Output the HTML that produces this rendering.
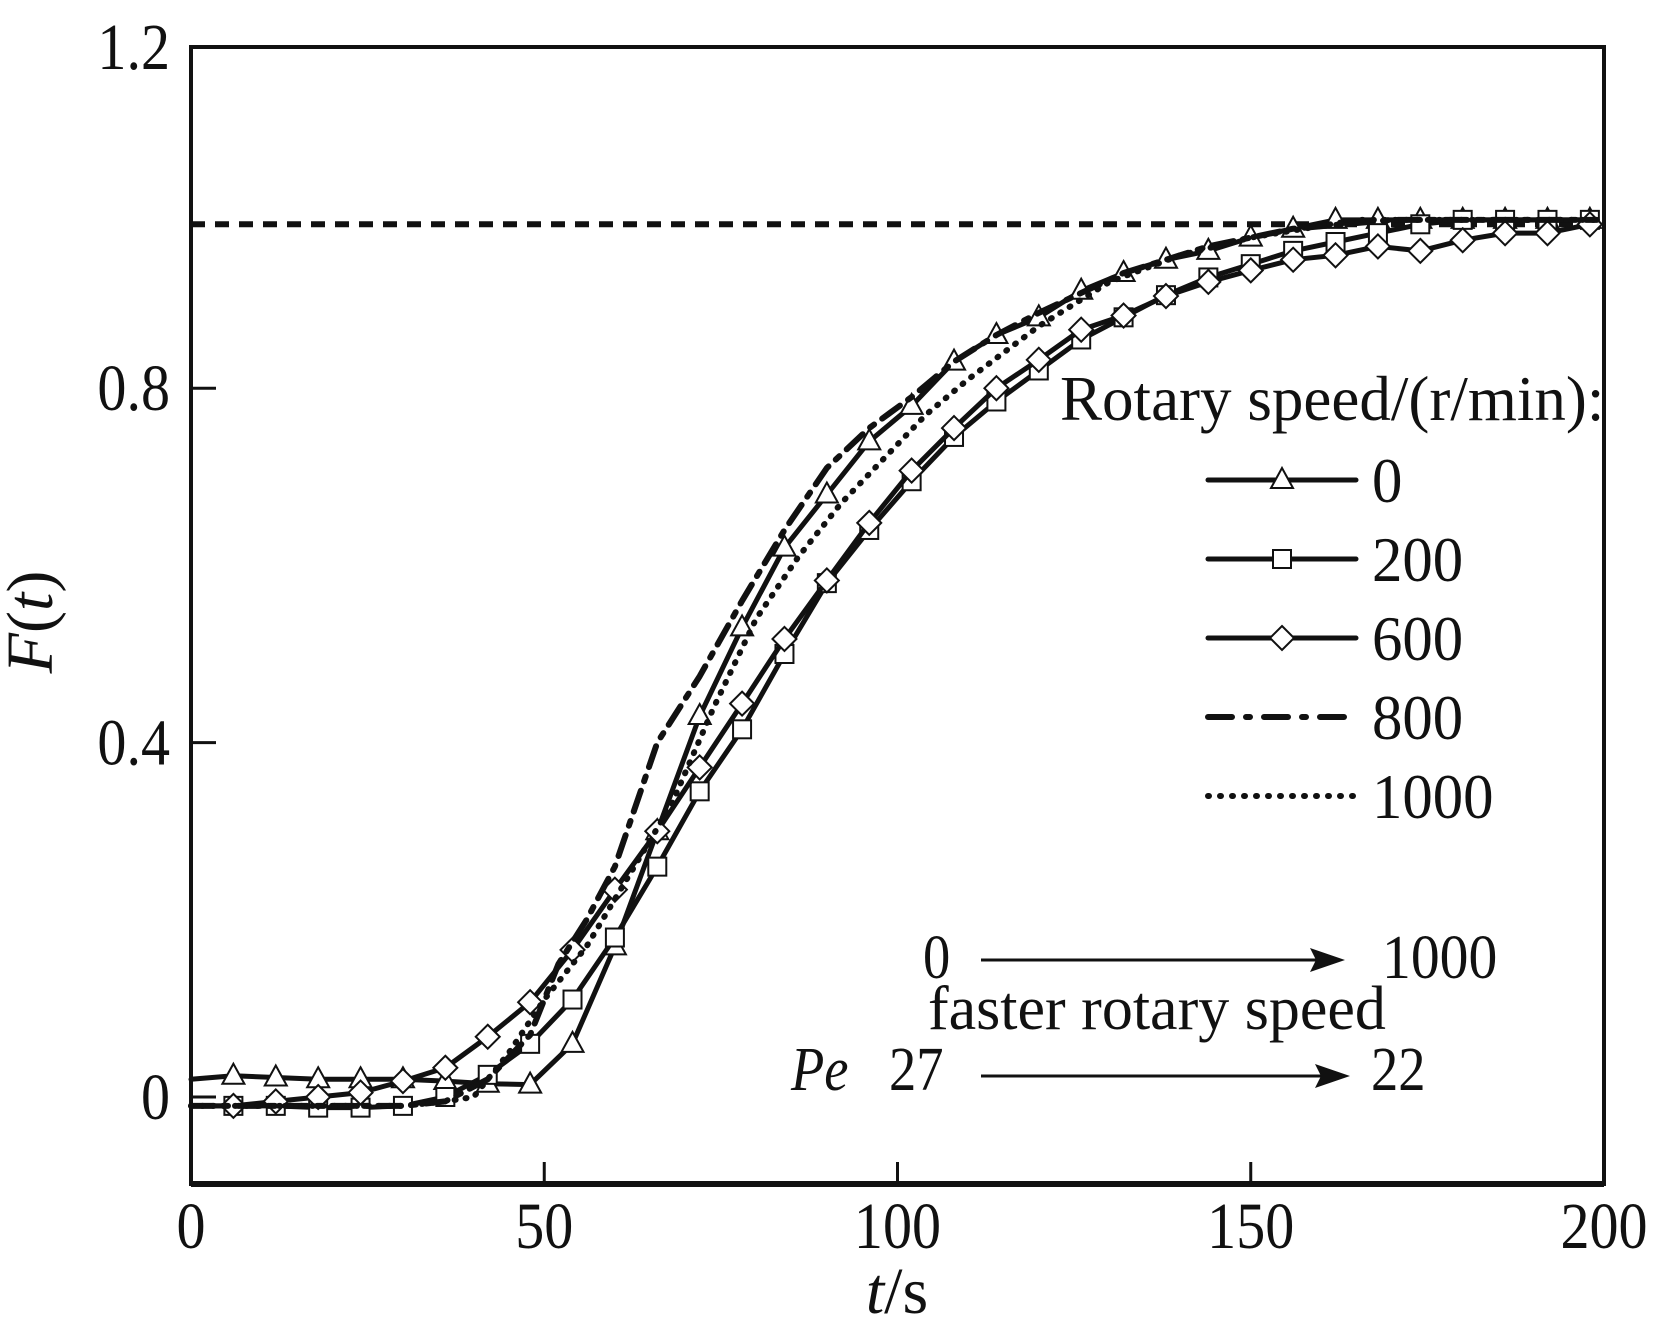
<!DOCTYPE html>
<html><head><meta charset="utf-8"><style>
html,body{margin:0;padding:0;background:#fff;}
svg{display:block;}
text{font-family:"Liberation Serif",serif;fill:#111;}
</style></head><body>
<svg id="chart" width="1654" height="1340" viewBox="0 0 1654 1340" xmlns="http://www.w3.org/2000/svg">
<g id="axes"></g>
<g id="series"></g>
<g id="legend"></g>
<g id="annot">
  <text x="923" y="978" font-size="62" transform="translate(923 0) scale(0.88 1) translate(-923 0)">0</text>
  <line x1="981" y1="960" x2="1335" y2="960" stroke="#111" stroke-width="3"/>
  <path d="M1345 960 L1310 948 L1316 960 L1310 972 Z" fill="#111"/>
  <text x="1382" y="978" font-size="62" transform="translate(1382 0) scale(0.93 1) translate(-1382 0)">1000</text>
  <text x="928" y="1029" font-size="62" transform="translate(928 0) scale(1.0 1) translate(-928 0)">faster rotary speed</text>
  <text x="791" y="1090" font-size="62" font-style="italic" transform="translate(791 0) scale(0.88 1) translate(-791 0)">Pe</text>
  <text x="889" y="1090" font-size="62" transform="translate(889 0) scale(0.88 1) translate(-889 0)">27</text>
  <line x1="981" y1="1076" x2="1340" y2="1076" stroke="#111" stroke-width="3"/>
  <path d="M1350 1076 L1315 1064 L1321 1076 L1315 1088 Z" fill="#111"/>
  <text x="1371" y="1090" font-size="62" transform="translate(1371 0) scale(0.88 1) translate(-1371 0)">22</text>
</g>
</svg>
<script>
const xTicks = [0, 50, 100, 150, 200];
const yTicks = [0, 0.4, 0.8, 1.2];
const seriesNames = ["0", "200", "600", "800", "1000"];
const t0 = [0,6,12,18,24,30,36,42,48,54,60,66,72,78,84,90,96,102,108,114,120,126,132,138,144,150,156,162,168,174,180,186,192,198];
const v0 = [0.02,0.024,0.022,0.02,0.02,0.02,0.018,0.015,0.014,0.06,0.17,0.30,0.43,0.53,0.62,0.68,0.74,0.78,0.83,0.86,0.88,0.91,0.93,0.945,0.955,0.97,0.98,0.99,0.99,0.99,0.99,0.99,0.99,0.99];
const t200 = [0,6,12,18,24,30,36,42,48,54,60,66,72,78,84,90,96,102,108,114,120,126,132,138,144,150,156,162,168,174,180,186,192,198];
const v200 = [-0.01,-0.01,-0.01,-0.012,-0.012,-0.01,0.0,0.025,0.06,0.11,0.18,0.26,0.345,0.415,0.5,0.58,0.64,0.695,0.745,0.785,0.82,0.855,0.88,0.905,0.925,0.94,0.955,0.965,0.975,0.985,0.99,0.99,0.99,0.99];
const t600 = [0,6,12,18,24,30,36,42,48,54,60,66,72,78,84,90,96,102,108,114,120,126,132,138,144,150,156,162,168,174,180,186,192,198];
const v600 = [-0.01,-0.01,-0.005,0.0,0.005,0.018,0.033,0.068,0.107,0.166,0.234,0.30,0.372,0.444,0.517,0.583,0.648,0.707,0.755,0.80,0.832,0.866,0.882,0.904,0.92,0.933,0.945,0.95,0.96,0.955,0.967,0.975,0.975,0.985];
const t800 = [0,10,20,30,36,42,48,52,56,60,66,72,78,84,90,96,102,108,114,120,132,144,156,170,185,199];
const v800 = [-0.01,-0.01,-0.01,-0.01,-0.005,0.02,0.07,0.15,0.2,0.26,0.40,0.475,0.56,0.64,0.71,0.755,0.79,0.83,0.86,0.885,0.93,0.96,0.98,0.99,0.99,0.99];
const t1000 = [0,10,20,30,36,40,45,50,56,62,68,74,80,86,92,98,104,110,120,130,140,150,165,180,199];
const v1000 = [-0.01,-0.01,-0.01,-0.01,-0.005,0.0,0.05,0.11,0.17,0.25,0.33,0.44,0.54,0.61,0.67,0.72,0.77,0.81,0.87,0.92,0.95,0.97,0.99,0.99,0.99];
const refLevel = [0.985];

const NS = "http://www.w3.org/2000/svg";
const L = 191, R = 1604, T = 47, B = 1184;
function X(t){ return L + (t/200)*(R-L); }
function Y(v){ return 1097 - v*886; }
function mk(tag, attrs, parent){ const e=document.createElementNS(NS,tag); for(const k in attrs) e.setAttribute(k,attrs[k]); parent.appendChild(e); return e; }
const axes = document.getElementById('axes');
const sg = document.getElementById('series');
const lg = document.getElementById('legend');

let fr = mk('rect',{x:L,y:T,width:R-L,height:B-T,fill:'none',stroke:'#111','stroke-width':4},axes);


let bl = mk('line',{x1:L,y1:B,x2:R,y2:B,stroke:'#111','stroke-width':6},axes);



xTicks.forEach(v=>{
  if(v>0 && v<200){
    let tk = mk('line',{x1:X(v),y1:B,x2:X(v),y2:B-22,stroke:'#111','stroke-width':3},axes);
    
    
  }
  let tx = mk('text',{x:X(v),y:1248,'font-size':66,'text-anchor':'middle',transform:`translate(${X(v)} 0) scale(0.88 1) translate(${-X(v)} 0)`},axes);
  tx.textContent = String(v);
  
  
});
yTicks.forEach(v=>{
  const y = v===1.2 ? 47 : Y(v);
  if(v<1.2){
    let tk = mk('line',{x1:L,y1:y,x2:L+25,y2:y,stroke:'#111','stroke-width':3},axes);
    
    
  }
  let tx = mk('text',{x:170,y:y+22,'font-size':66,'text-anchor':'end',transform:`translate(170 0) scale(0.88 1) translate(-170 0)`},axes);
  tx.textContent = v===0 ? "0" : v.toFixed(1);
  
  
});
let xt = mk('text',{x:897,y:1313,'font-size':66,'text-anchor':'middle'},axes);
xt.innerHTML = '<tspan font-style="italic">t</tspan>/s';


let yt = mk('text',{x:0,y:0,'font-size':66,'text-anchor':'middle',transform:'translate(52 622) rotate(-90)'},axes);
yt.innerHTML = '<tspan font-style="italic">F</tspan>(<tspan font-style="italic">t</tspan>)';



let ref = mk('line',{x1:L,y1:Y(refLevel[0]),x2:X(199),y2:Y(refLevel[0]),stroke:'#111','stroke-width':6,'stroke-dasharray':'14 10'},sg);



function marker(type,x,y,parent){
  let e;
  if(type==='tri') e = mk('path',{d:`M${x} ${y-12} L${x+11} ${y+8} L${x-11} ${y+8} Z`},parent);
  else if(type==='sq') e = mk('rect',{x:x-9,y:y-9,width:18,height:18},parent);
  else e = mk('path',{d:`M${x} ${y-12} L${x+12} ${y} L${x} ${y+12} L${x-12} ${y} Z`},parent);
  e.setAttribute('fill','#fff'); e.setAttribute('stroke','#111'); e.setAttribute('stroke-width','2');
  return e;
}
const defs = [
  {ts:t0,vs:v0,m:'tri',dash:null,w:5},
  {ts:t200,vs:v200,m:'sq',dash:null,w:5},
  {ts:t600,vs:v600,m:'dia',dash:null,w:5},
  {ts:t800,vs:v800,m:null,dash:'22 10 5 10',w:6},
  {ts:t1000,vs:v1000,m:null,dash:'1 10',w:6}
];
defs.forEach((d,i)=>{
  const g = mk('g',{},sg);
  
  
  const pts = d.ts.map((t,k)=>X(t).toFixed(1)+','+Y(d.vs[k]).toFixed(1)).join(' ');
  const attrs = {points:pts,fill:'none',stroke:'#111','stroke-width':d.w,'stroke-linejoin':'round','stroke-linecap':'round'};
  if(d.dash) attrs['stroke-dasharray']=d.dash;
  const pl = mk('polyline',attrs,g);
  
  
  if(d.m){
    d.ts.forEach((t,k)=>{
      if(t===0) return;
      const e = marker(d.m,X(t),Y(d.vs[k]),g);
      
      
    });
  }
});

let lt = mk('text',{x:1060,y:420,'font-size':64,transform:'translate(1060 0) scale(0.985 1) translate(-1060 0)'},lg);
lt.textContent = 'Rotary speed/(r/min):';


const legY = [480,559,638,717,796];
defs.forEach((d,i)=>{
  const y = legY[i];
  const attrs = {x1:1208,y1:y,x2:1356,y2:y,stroke:'#111','stroke-width':d.w,'stroke-linecap':'round'};
  if(d.dash) attrs['stroke-dasharray']= i===3 ? '24 14 4 14' : '1 11';
  const ln = mk('line',attrs,lg);
  
  
  if(d.m){
    const e = marker(d.m,1282,y,lg);
    
    
  }
  const tx = mk('text',{x:1372,y:y+22,'font-size':64,transform:'translate(1372 0) scale(0.95 1) translate(-1372 0)'},lg);
  tx.textContent = seriesNames[i];
  
  
});
</script>
</body></html>
